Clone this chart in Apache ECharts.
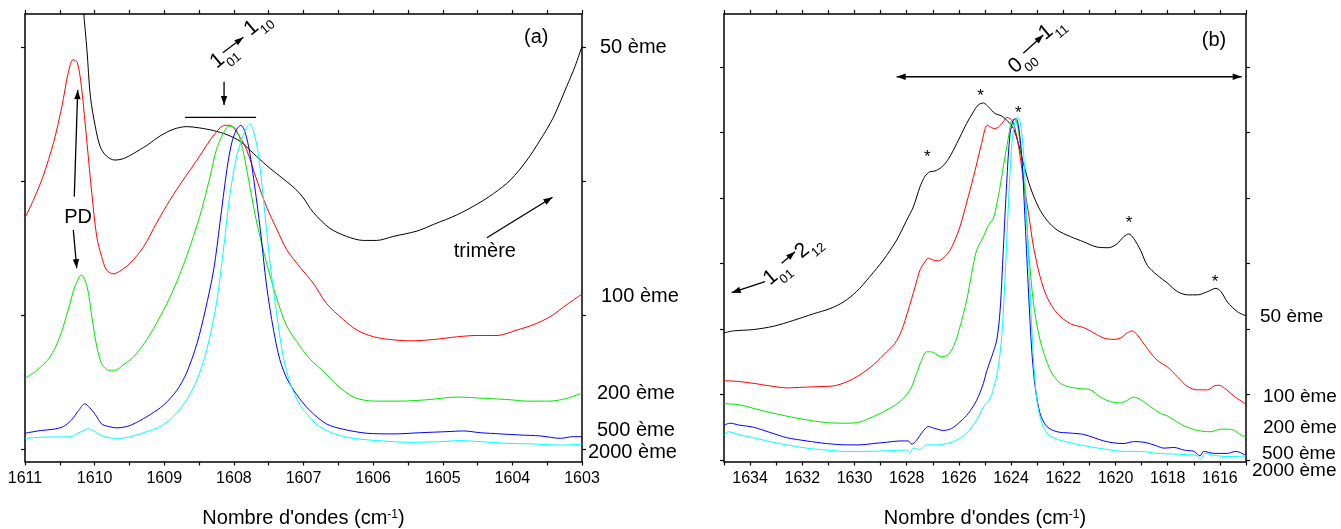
<!DOCTYPE html>
<html><head><meta charset="utf-8">
<script src="https://cdn.jsdelivr.net/npm/echarts@6/dist/echarts.min.js"></script>
<style>html,body{margin:0;padding:0;background:#fff}#c{width:1341px;height:529px}</style>
</head><body><div id="c"></div>
<script>
// ---------- DATA ----------
const seriesNames = ['50 ème', '100 ème', '200 ème', '500 ème', '2000 ème'];
const xTitle = "Nombre d'ondes (cm{sup|-1})";

// Panel (a) tick values
const aTicksX = [1603,1603.5,1604,1604.5,1605,1605.5,1606,1606.5,1607,1607.5,1608,1608.5,1609,1609.5,1610,1610.5,1611];
const aLabelsX = [1603,1604,1605,1606,1607,1608,1609,1610,1611];
const aTicksY = [0,1,2,3];
// Panel (b) tick values
const bTicksX = [1615,1616,1617,1618,1619,1620,1621,1622,1623,1624,1625,1626,1627,1628,1629,1630,1631,1632,1633,1634,1635];
const bLabelsX = [1616,1618,1620,1622,1624,1626,1628,1630,1632,1634];
const bTicksY = [0,1,2,3,4,5,6];

// Panel (a) spectra [wavenumber, absorbance a.u.]
const a50 = [[1610.19,3.53],[1610.16,3.28],[1610.11,2.98],[1610.06,2.63],[1609.99,2.41],[1609.92,2.26],[1609.83,2.19],[1609.71,2.16],[1609.59,2.17],[1609.44,2.21],[1609.25,2.27],[1609.06,2.34],[1608.87,2.39],[1608.68,2.41],[1608.49,2.40],[1608.29,2.38],[1608.10,2.35],[1607.91,2.30],[1607.72,2.21],[1607.53,2.12],[1607.34,2.04],[1607.15,1.96],[1607.02,1.89],[1606.86,1.77],[1606.62,1.65],[1606.38,1.59],[1606.14,1.56],[1605.95,1.56],[1605.71,1.59],[1605.37,1.63],[1605.13,1.68],[1604.80,1.75],[1604.51,1.83],[1604.27,1.91],[1604.03,2.01],[1603.79,2.16],[1603.60,2.31],[1603.41,2.48],[1603.22,2.71],[1603.10,2.86],[1603.00,3.01]];
const a100 = [[1611.00,1.73],[1610.88,1.86],[1610.74,2.04],[1610.59,2.29],[1610.47,2.56],[1610.38,2.81],[1610.31,2.91],[1610.25,2.89],[1610.19,2.71],[1610.11,2.29],[1610.04,1.91],[1609.97,1.59],[1609.90,1.44],[1609.83,1.34],[1609.73,1.31],[1609.64,1.33],[1609.49,1.39],[1609.30,1.51],[1609.11,1.69],[1608.92,1.86],[1608.73,2.01],[1608.53,2.16],[1608.34,2.31],[1608.20,2.40],[1608.13,2.42],[1608.06,2.42],[1607.96,2.37],[1607.82,2.24],[1607.67,2.01],[1607.53,1.81],[1607.38,1.64],[1607.24,1.49],[1607.05,1.36],[1606.86,1.24],[1606.67,1.09],[1606.43,0.97],[1606.23,0.89],[1605.99,0.84],[1605.76,0.82],[1605.47,0.81],[1605.13,0.82],[1604.80,0.84],[1604.51,0.85],[1604.22,0.85],[1603.94,0.89],[1603.70,0.93],[1603.46,0.99],[1603.22,1.08],[1603.00,1.16]];
const a200 = [[1611.00,0.53],[1610.83,0.59],[1610.64,0.69],[1610.50,0.84],[1610.38,1.04],[1610.28,1.22],[1610.19,1.30],[1610.11,1.22],[1610.04,0.99],[1609.97,0.77],[1609.90,0.64],[1609.80,0.59],[1609.71,0.59],[1609.59,0.63],[1609.44,0.69],[1609.25,0.82],[1609.06,0.99],[1608.87,1.19],[1608.68,1.44],[1608.49,1.74],[1608.34,2.04],[1608.25,2.24],[1608.15,2.36],[1608.08,2.41],[1608.01,2.41],[1607.94,2.36],[1607.86,2.21],[1607.77,1.96],[1607.67,1.69],[1607.53,1.39],[1607.38,1.12],[1607.24,0.92],[1607.05,0.77],[1606.90,0.67],[1606.71,0.58],[1606.52,0.48],[1606.28,0.39],[1605.99,0.36],[1605.61,0.36],[1605.23,0.37],[1604.80,0.39],[1604.37,0.38],[1604.03,0.37],[1603.79,0.36],[1603.46,0.36],[1603.22,0.38],[1603.00,0.42]];
const a500 = [[1611.00,0.12],[1610.78,0.14],[1610.59,0.15],[1610.45,0.17],[1610.33,0.22],[1610.23,0.29],[1610.14,0.34],[1610.07,0.31],[1609.99,0.26],[1609.90,0.19],[1609.80,0.17],[1609.68,0.16],[1609.54,0.17],[1609.40,0.20],[1609.20,0.26],[1609.01,0.33],[1608.82,0.44],[1608.68,0.57],[1608.53,0.79],[1608.41,1.04],[1608.29,1.34],[1608.20,1.69],[1608.10,2.09],[1608.03,2.29],[1607.96,2.39],[1607.90,2.42],[1607.84,2.37],[1607.77,2.21],[1607.70,1.96],[1607.62,1.64],[1607.53,1.22],[1607.43,0.89],[1607.34,0.67],[1607.24,0.53],[1607.10,0.41],[1606.91,0.29],[1606.67,0.19],[1606.43,0.15],[1606.09,0.12],[1605.71,0.115],[1605.32,0.124],[1604.94,0.132],[1604.70,0.137],[1604.46,0.124],[1604.17,0.115],[1603.89,0.107],[1603.60,0.10],[1603.31,0.082],[1603.12,0.095],[1603.00,0.095]];
const a2000 = [[1611.00,0.082],[1610.78,0.09],[1610.55,0.092],[1610.35,0.095],[1610.26,0.115],[1610.16,0.139],[1610.09,0.154],[1610.02,0.139],[1609.92,0.107],[1609.80,0.087],[1609.68,0.082],[1609.54,0.087],[1609.40,0.107],[1609.25,0.132],[1609.06,0.169],[1608.87,0.244],[1608.68,0.368],[1608.53,0.518],[1608.39,0.742],[1608.25,1.09],[1608.15,1.49],[1608.06,1.89],[1607.96,2.19],[1607.89,2.31],[1607.82,2.40],[1607.77,2.43],[1607.72,2.38],[1607.65,2.21],[1607.58,1.89],[1607.48,1.39],[1607.38,0.99],[1607.29,0.69],[1607.19,0.49],[1607.05,0.33],[1606.91,0.24],[1606.80,0.18],[1606.57,0.119],[1606.28,0.082],[1605.85,0.062],[1605.47,0.052],[1605.04,0.057],[1604.75,0.065],[1604.46,0.057],[1604.08,0.045],[1603.70,0.04],[1603.31,0.032],[1603.00,0.037]];

// Panel (b) spectra
const b50 = [[1635.00,1.94],[1634.64,1.97],[1633.88,1.99],[1633.11,2.04],[1632.34,2.13],[1631.58,2.23],[1630.94,2.31],[1630.43,2.41],[1629.92,2.57],[1629.41,2.80],[1628.90,3.05],[1628.38,3.36],[1628.00,3.66],[1627.75,3.86],[1627.49,4.17],[1627.30,4.33],[1627.11,4.40],[1626.92,4.41],[1626.66,4.47],[1626.41,4.59],[1626.21,4.73],[1625.96,4.93],[1625.70,5.14],[1625.45,5.31],[1625.26,5.42],[1625.06,5.45],[1624.87,5.39],[1624.62,5.29],[1624.36,5.25],[1624.10,5.16],[1623.91,5.06],[1623.72,4.83],[1623.53,4.53],[1623.27,4.17],[1622.95,3.86],[1622.63,3.66],[1622.24,3.51],[1621.73,3.41],[1621.22,3.33],[1620.71,3.25],[1620.26,3.24],[1619.94,3.30],[1619.68,3.41],[1619.49,3.45],[1619.30,3.38],[1619.04,3.20],[1618.78,2.97],[1618.40,2.82],[1618.01,2.70],[1617.63,2.57],[1617.24,2.52],[1616.86,2.52],[1616.47,2.57],[1616.15,2.62],[1615.96,2.57],[1615.71,2.41],[1615.32,2.26],[1615.00,2.20]];
const b100 = [[1635.00,1.21],[1634.52,1.20],[1633.88,1.17],[1633.24,1.13],[1632.60,1.10],[1631.96,1.11],[1631.32,1.12],[1630.81,1.13],[1630.30,1.19],[1629.79,1.30],[1629.28,1.45],[1628.77,1.65],[1628.45,1.78],[1628.19,1.98],[1627.94,2.29],[1627.68,2.64],[1627.49,2.90],[1627.34,3.00],[1627.17,3.08],[1626.98,3.05],[1626.79,3.04],[1626.60,3.08],[1626.34,3.20],[1626.15,3.36],[1625.96,3.56],[1625.64,4.02],[1625.38,4.42],[1625.13,4.83],[1624.91,5.11],[1624.74,5.07],[1624.62,5.06],[1624.49,5.08],[1624.30,5.16],[1624.17,5.23],[1624.04,5.21],[1623.91,5.14],[1623.78,4.93],[1623.65,4.63],[1623.53,4.27],[1623.33,3.76],[1623.14,3.25],[1622.89,2.80],[1622.63,2.49],[1622.24,2.24],[1621.73,2.08],[1621.22,2.02],[1620.83,1.94],[1620.45,1.86],[1620.06,1.84],[1619.81,1.86],[1619.55,1.94],[1619.36,1.97],[1619.17,1.91],[1618.78,1.70],[1618.40,1.52],[1618.01,1.42],[1617.63,1.27],[1617.24,1.12],[1616.86,1.07],[1616.47,1.07],[1616.22,1.13],[1616.03,1.14],[1615.77,1.08],[1615.45,0.97],[1615.00,0.85]];
const b200 = [[1635.00,0.86],[1634.39,0.84],[1633.62,0.76],[1632.85,0.69],[1631.96,0.62],[1631.07,0.57],[1630.30,0.56],[1629.79,0.58],[1629.28,0.66],[1628.77,0.76],[1628.26,0.89],[1627.87,1.07],[1627.62,1.32],[1627.43,1.52],[1627.24,1.65],[1627.04,1.65],[1626.72,1.58],[1626.47,1.59],[1626.21,1.73],[1625.96,2.03],[1625.70,2.44],[1625.51,2.85],[1625.32,3.20],[1625.06,3.41],[1624.87,3.58],[1624.68,3.69],[1624.49,4.02],[1624.30,4.47],[1624.10,4.93],[1623.97,5.19],[1623.85,5.20],[1623.72,5.03],[1623.59,4.58],[1623.46,4.02],[1623.33,3.20],[1623.14,2.39],[1622.89,1.83],[1622.50,1.37],[1622.12,1.17],[1621.73,1.11],[1621.35,1.09],[1620.96,1.07],[1620.58,0.96],[1620.19,0.89],[1619.81,0.87],[1619.55,0.91],[1619.30,0.96],[1619.04,0.92],[1618.65,0.81],[1618.27,0.71],[1618.01,0.67],[1617.76,0.61],[1617.37,0.52],[1616.86,0.45],[1616.35,0.43],[1615.96,0.47],[1615.64,0.47],[1615.45,0.45],[1615.19,0.38],[1615.00,0.35]];
const b500 = [[1635.00,0.53],[1634.77,0.56],[1634.39,0.53],[1633.88,0.50],[1633.24,0.42],[1632.60,0.34],[1631.83,0.29],[1631.07,0.25],[1630.30,0.23],[1629.79,0.23],[1629.28,0.25],[1628.77,0.27],[1628.26,0.29],[1627.94,0.29],[1627.81,0.24],[1627.62,0.30],[1627.43,0.41],[1627.17,0.51],[1626.92,0.48],[1626.60,0.45],[1626.28,0.48],[1625.96,0.58],[1625.64,0.71],[1625.32,0.91],[1625.06,1.17],[1624.94,1.35],[1624.74,1.58],[1624.55,1.83],[1624.42,2.29],[1624.30,3.20],[1624.17,4.22],[1624.04,4.98],[1623.91,5.19],[1623.81,5.21],[1623.72,5.11],[1623.59,4.63],[1623.46,3.61],[1623.33,2.54],[1623.21,1.68],[1623.08,1.12],[1622.89,0.71],[1622.63,0.51],[1622.24,0.43],[1621.73,0.41],[1621.22,0.39],[1620.83,0.34],[1620.45,0.29],[1620.06,0.26],[1619.68,0.25],[1619.30,0.28],[1618.91,0.27],[1618.53,0.23],[1618.14,0.18],[1617.76,0.19],[1617.37,0.15],[1616.99,0.13],[1616.76,0.06],[1616.63,0.13],[1616.22,0.10],[1615.71,0.10],[1615.39,0.13],[1615.00,0.07]];
const b2000 = [[1635.00,0.38],[1634.83,0.43],[1634.39,0.38],[1633.88,0.34],[1633.24,0.28],[1632.60,0.23],[1631.83,0.18],[1631.07,0.15],[1630.30,0.13],[1629.53,0.13],[1628.77,0.14],[1628.00,0.15],[1627.87,0.11],[1627.75,0.18],[1627.49,0.16],[1627.24,0.23],[1626.85,0.23],[1626.47,0.25],[1626.09,0.30],[1625.70,0.41],[1625.32,0.61],[1625.06,0.81],[1624.81,0.93],[1624.62,1.17],[1624.49,1.42],[1624.36,1.88],[1624.23,2.80],[1624.10,3.92],[1623.97,4.83],[1623.85,5.16],[1623.74,5.24],[1623.65,5.16],[1623.53,4.73],[1623.40,3.71],[1623.27,2.54],[1623.14,1.52],[1623.01,0.91],[1622.82,0.56],[1622.56,0.38],[1622.12,0.30],[1621.60,0.25],[1620.96,0.20],[1620.32,0.16],[1619.68,0.13],[1619.04,0.13],[1618.40,0.10],[1617.76,0.09],[1617.24,0.08],[1616.92,0.07],[1616.73,0.01],[1616.58,0.10],[1616.22,0.07],[1615.71,0.05],[1615.00,0.06]];

// Right-hand trace labels (absorbance level where each label sits)
const aLabelLevels = [3.00, 1.145, 0.42, 0.144, -0.02];
const bLabelLevels = [2.18, 0.96, 0.487, 0.09, -0.17];
// Stars on panel (b) [wavenumber, level]
const bStars = [[1627.21,4.68],[1625.17,5.60],[1623.72,5.35],[1619.48,3.67],[1616.19,2.77]];

// ---------- CHART ----------
const FONT = 'Arial, "Liberation Sans", Helvetica, sans-serif';
const colors = ['#000000', '#ff0000', '#00e600', '#0000ff', '#00ffff'];
const aSets = [a50, a100, a200, a500, a2000];
const bSets = [b50, b100, b200, b500, b2000];

function xAx(gi, min, max, labels, ticks, pos, main) {
  return {
    type: 'value', gridIndex: gi, position: pos, min: min, max: max, inverse: true,
    axisLine: {show: true, onZero: false, lineStyle: {color: '#000', width: 1.5}},
    axisTick: {show: true, inside: false, length: 4, customValues: ticks, lineStyle: {color: '#000', width: 1.2}},
    axisLabel: {show: main, customValues: labels, margin: 9, color: '#000', fontSize: 16, fontFamily: FONT,
      formatter: v => String(v)},
    splitLine: {show: false},
    name: main ? xTitle : '', nameLocation: 'middle', nameGap: 47,
    nameTextStyle: {color: '#000', fontSize: 20, fontFamily: FONT,
      rich: {sup: {fontSize: 12, color: '#000', fontFamily: FONT, verticalAlign: 'top', lineHeight: 12}}}
  };
}
function yAx(gi, min, max, ticks, pos) {
  return {
    type: 'value', gridIndex: gi, position: pos, min: min, max: max,
    axisLine: {show: true, onZero: false, lineStyle: {color: '#000', width: 1.5}},
    axisTick: {show: true, inside: false, length: 4, customValues: ticks, lineStyle: {color: '#000', width: 1.2}},
    axisLabel: {show: false}, splitLine: {show: false}
  };
}

const series = [];
aSets.forEach((d, i) => series.push({name: seriesNames[i], type: 'line', xAxisIndex: 0, yAxisIndex: 0, data: d,
  showSymbol: false, smooth: 0.3, clip: true, lineStyle: {color: colors[i], width: 1}, itemStyle: {color: colors[i]}, silent: true}));
bSets.forEach((d, i) => series.push({name: seriesNames[i], type: 'line', xAxisIndex: 2, yAxisIndex: 2, data: d,
  showSymbol: false, smooth: 0.3, clip: true, lineStyle: {color: colors[i], width: 1}, itemStyle: {color: colors[i]}, silent: true}));

const option = {
  animation: false,
  backgroundColor: '#fff',
  textStyle: {fontFamily: FONT},
  grid: [
    {left: 25, top: 14, width: 557, height: 447.5, containLabel: false, outerBoundsMode: 'none'},
    {left: 724, top: 14, width: 522, height: 447.5, containLabel: false, outerBoundsMode: 'none'}
  ],
  xAxis: [
    xAx(0, 1603, 1611, aLabelsX, aTicksX, 'bottom', true),
    xAx(0, 1603, 1611, aLabelsX, aTicksX, 'top', false),
    xAx(1, 1615, 1635, bLabelsX, bTicksX, 'bottom', true),
    xAx(1, 1615, 1635, bLabelsX, bTicksX, 'top', false)
  ],
  yAxis: [
    yAx(0, -0.091, 3.251, aTicksY, 'left'),
    yAx(0, -0.091, 3.251, aTicksY, 'right'),
    yAx(1, -0.024, 6.808, bTicksY, 'left'),
    yAx(1, -0.024, 6.808, bTicksY, 'right')
  ],
  series: series
};

const chart = echarts.init(document.getElementById('c'), null, {renderer: 'canvas'});
chart.setOption(option);

// ---------- ANNOTATIONS (anchored in data coordinates) ----------
function P(panel, p) { return chart.convertToPixel({seriesIndex: panel === 0 ? 0 : 5}, p); }
const els = [];
function head(from, to) {
  const dx = to[0] - from[0], dy = to[1] - from[1], L = Math.hypot(dx, dy), ux = dx / L, uy = dy / L;
  const len = 9, w = 3.2, bx = to[0] - ux * len, by = to[1] - uy * len;
  return {type: 'polygon', silent: true, shape: {points: [[to[0], to[1]], [bx - uy * w, by + ux * w], [bx + uy * w, by - ux * w]]}, style: {fill: '#000'}};
}
function line(panel, a, b, startHead, endHead) {
  const p1 = P(panel, a), p2 = P(panel, b);
  els.push({type: 'line', silent: true, shape: {x1: p1[0], y1: p1[1], x2: p2[0], y2: p2[1]}, style: {stroke: '#000', lineWidth: 1.3}});
  if (endHead) els.push(head(p1, p2));
  if (startHead) els.push(head(p2, p1));
}
function text(panel, a, str, size, opts) {
  const p = P(panel, a);
  opts = opts || {};
  els.push({type: 'text', silent: true, x: p[0] + (opts.dx || 0), y: p[1] + (opts.dy || 0), rotation: opts.rot || 0,
    style: Object.assign({text: str, fill: '#000', font: size + 'px ' + FONT,
      align: opts.align || 'center', verticalAlign: opts.va || 'middle'}, opts.rich ? {rich: opts.rich} : {})});
}
const subRich = {
  m: {fontSize: 21, fontFamily: FONT, fill: '#000', lineHeight: 27, verticalAlign: 'top'},
  s: {fontSize: 13, fontFamily: FONT, fill: '#000', lineHeight: 14, verticalAlign: 'bottom'}
};
function trans(panel, a, main, sub) {
  text(panel, a, '{m|' + main + '}{s|' + sub + '}', 21, {rot: 40 * Math.PI / 180, rich: subRich});
}

// Panel (a)
text(0, [1603.658, 3.072], '(a)', 20);
trans(0, [1608.129, 2.919], '1', '01');
trans(0, [1607.641, 3.163], '1', '10');
line(0, [1608.159, 2.962], [1607.864, 3.077], false, true);
line(0, [1608.141, 2.745], [1608.141, 2.572], false, true);
line(0, [1608.701, 2.479], [1607.681, 2.479], false, false);
text(0, [1610.238, 1.729], 'PD', 20);
line(0, [1610.292, 1.887], [1610.243, 2.683], false, true);
line(0, [1610.306, 1.638], [1610.257, 1.352], false, true);
text(0, [1604.395, 1.476], 'trimère', 20);
line(0, [1604.367, 1.580], [1603.424, 1.882], false, true);

// Panel (b)
text(1, [1616.226, 6.411], '(b)', 20);
line(1, [1628.383, 5.850], [1615.165, 5.850], true, true);
trans(1, [1623.540, 6.052], '0', '00');
trans(1, [1622.391, 6.560], '1', '11');
line(1, [1623.533, 6.208], [1622.766, 6.487], false, true);
trans(1, [1632.927, 2.820], '1', '01');
trans(1, [1631.713, 3.227], '2', '12');
line(1, [1632.789, 3.002], [1632.280, 3.179], false, true);
line(1, [1633.429, 2.721], [1634.705, 2.553], false, true);
bStars.forEach(s => text(1, s, '*', 17, {va: 'top', dy: -5}));

// Trace labels to the right of each panel
const aOff = [18, 19, 15, 15, 6], bOff = [14, 17, 17, 16, 6];
aLabelLevels.forEach((v, i) => text(0, [1603, v], seriesNames[i], 20, {align: 'left', dx: aOff[i]}));
bLabelLevels.forEach((v, i) => text(1, [1615, v], seriesNames[i], 19, {align: 'left', dx: bOff[i]}));

chart.setOption({graphic: {elements: els}});
</script>
</body></html>
